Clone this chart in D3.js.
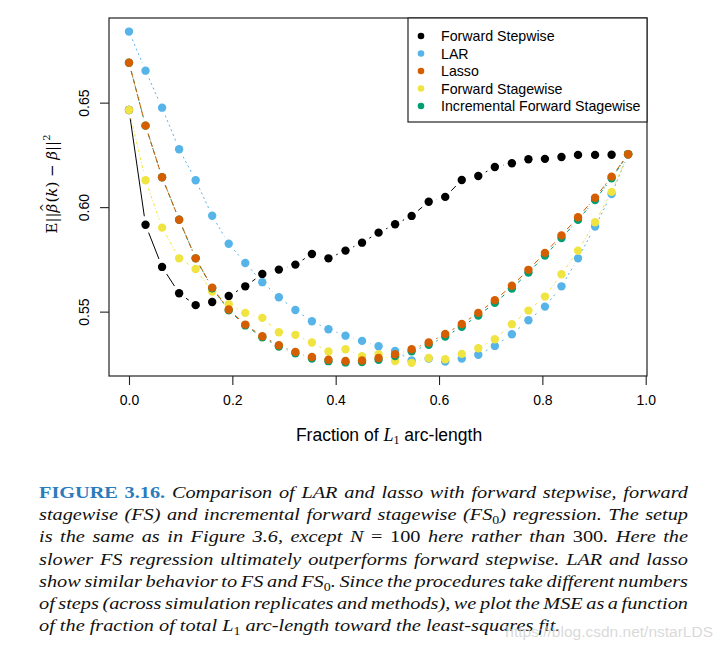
<!DOCTYPE html>
<html><head><meta charset="utf-8">
<script src="https://cdn.jsdelivr.net/npm/d3@7"></script>
<style>
html,body{margin:0;padding:0;background:#fff;}
svg{display:block;}
</style></head>
<body>
<svg id="chart" width="722" height="649"></svg>
<script>
// ---------------- data ----------------
const fraction = [0, .032, .064, .097, .129, .161, .193, .225, .258, .290, .322, .354, .386, .419, .451, .483,
  .515, .547, .580, .612, .644, .676, .708, .741, .773, .805, .837, .869, .902, .934, .966];

const forwardStepwise = [0.6465, 0.5916, 0.5714, 0.5588, 0.5531, 0.5546, 0.5575, 0.5621, 0.5680, 0.5701,
  0.5725, 0.5776, 0.5755, 0.5792, 0.5830, 0.5878, 0.5918, 0.5958, 0.6026, 0.6049, 0.6130, 0.6149, 0.6192,
  0.6210, 0.6229, 0.6231, 0.6240, 0.6250, 0.6250, 0.6251, 0.6253];

const lar = [0.6840, 0.6653, 0.6476, 0.6277, 0.6129, 0.5959, 0.5825, 0.5733, 0.5641, 0.5569, 0.5508, 0.5454,
  0.5416, 0.5385, 0.5360, 0.5334, 0.5312, 0.5266, 0.5275, 0.5261, 0.5275, 0.5294, 0.5336, 0.5392, 0.5459,
  0.5524, 0.5621, 0.5755, 0.5907, 0.6063, 0.6253];

const lasso = [0.6691, 0.6390, 0.6143, 0.5940, 0.5755, 0.5615, 0.5510, 0.5438, 0.5382, 0.5339, 0.5307, 0.5283,
  0.5270, 0.5264, 0.5266, 0.5278, 0.5296, 0.5320, 0.5352, 0.5393, 0.5441, 0.5494, 0.5555, 0.5624, 0.5700,
  0.5781, 0.5865, 0.5952, 0.6045, 0.6146, 0.6253];

const forwardStagewise = [0.6465, 0.6129, 0.5902, 0.5755, 0.5704, 0.5596, 0.5535, 0.5494, 0.5470, 0.5401,
  0.5389, 0.5352, 0.5309, 0.5320, 0.5287, 0.5296, 0.5264, 0.5255, 0.5278, 0.5272, 0.5298, 0.5325, 0.5368,
  0.5440, 0.5505, 0.5572, 0.5679, 0.5792, 0.5928, 0.6073, 0.6253];

const incrementalStagewise = [0.6691, 0.6390, 0.6143, 0.5940, 0.5755, 0.5612, 0.5506, 0.5434, 0.5377, 0.5333,
  0.5301, 0.5276, 0.5263, 0.5257, 0.5259, 0.5270, 0.5287, 0.5310, 0.5341, 0.5381, 0.5428, 0.5481, 0.5542,
  0.5611, 0.5687, 0.5768, 0.5852, 0.5939, 0.6034, 0.6138, 0.6253];

const seriesNames = ["Forward Stepwise", "LAR", "Lasso", "Forward Stagewise", "Incremental Forward Stagewise"];
const seriesColors = ["#000000", "#56B4E9", "#D55E00", "#F0E442", "#009E73"];
const seriesDash = [null, "2,3", "6,2", "3,2,1,2", "4,2,1,2"];
const xTicks = [0, 0.2, 0.4, 0.6, 0.8, 1.0];
const yTicks = [0.55, 0.60, 0.65];

// ---------------- layout ----------------
const svg = d3.select("#chart");
const box = {left: 109, right: 647, top: 18, bottom: 376};
const x = d3.scaleLinear().domain([-0.0387, 1.0025]).range([box.left, box.right]);
const y = d3.scaleLinear().domain([0.5192, 0.6905]).range([box.bottom, box.top]);

const allSeries = [forwardStepwise, lar, lasso, forwardStagewise, incrementalStagewise];
// drawing order (bottom -> top)
const drawOrder = [0, 1, 3, 4, 2];

const gap = 8.5;
drawOrder.forEach(si => {
  const vals = allSeries[si];
  const g = svg.append("g");
  const segs = [];
  for (let i = 0; i < vals.length - 1; i++) {
    const x1 = x(fraction[i]), y1 = y(vals[i]), x2 = x(fraction[i+1]), y2 = y(vals[i+1]);
    const d = Math.hypot(x2 - x1, y2 - y1);
    if (d > 2 * gap) {
      const ux = (x2 - x1) / d, uy = (y2 - y1) / d;
      segs.push([x1 + ux*gap, y1 + uy*gap, x2 - ux*gap, y2 - uy*gap]);
    }
  }
  g.selectAll("line").data(segs).join("line")
    .attr("x1", d => d[0]).attr("y1", d => d[1]).attr("x2", d => d[2]).attr("y2", d => d[3])
    .attr("stroke", seriesColors[si]).attr("stroke-width", 1)
    .attr("stroke-dasharray", seriesDash[si]);
  g.selectAll("circle").data(vals).join("circle")
    .attr("cx", (d, i) => x(fraction[i])).attr("cy", d => y(d)).attr("r", 4.2)
    .attr("fill", seriesColors[si]);
});

// box
svg.append("rect").attr("x", box.left).attr("y", box.top)
  .attr("width", box.right - box.left).attr("height", box.bottom - box.top)
  .attr("fill", "none").attr("stroke", "#222").attr("stroke-width", 1.2);

// x axis
const xAxis = d3.axisBottom(x).tickValues(xTicks).tickFormat(d3.format(".1f")).tickSize(9).tickPadding(10);
const gx = svg.append("g").attr("transform", `translate(0,${box.bottom})`).call(xAxis);
gx.select(".domain").remove();
gx.selectAll(".tick line").attr("stroke", "#222").attr("stroke-width", 1.1);
gx.selectAll("text").attr("font-family", "Liberation Sans, Arial, sans-serif").attr("font-size", 14).attr("fill", "#000");

// y axis
const yAxis = d3.axisLeft(y).tickValues(yTicks).tickFormat(d3.format(".2f")).tickSize(9).tickPadding(0);
const gy = svg.append("g").attr("transform", `translate(${box.left},0)`).call(yAxis);
gy.select(".domain").remove();
gy.selectAll(".tick line").attr("stroke", "#222").attr("stroke-width", 1.1);
gy.selectAll("text")
  .attr("font-family", "Liberation Sans, Arial, sans-serif").attr("font-size", 14).attr("fill", "#000")
  .attr("text-anchor", "middle").attr("x", 0)
  .attr("transform", "translate(-25,0) rotate(-90)").attr("y", 0).attr("dy", "0.35em");

// y label (math)
const yl = svg.append("text").attr("transform", "translate(57,184) rotate(-90)")
  .attr("text-anchor", "middle").attr("font-family", "DejaVu Serif, Liberation Serif, serif").attr("font-size", 15);
yl.append("tspan").text("E||");
yl.append("tspan").attr("font-style", "italic").text("β");
yl.append("tspan").attr("font-size", 11).attr("dx", -8.5).attr("dy", -9).text("^");
yl.append("tspan").attr("dx", 0.5).attr("dy", 9).text("(");
yl.append("tspan").attr("font-style", "italic").text("k");
yl.append("tspan").text(") \u2212 ");
yl.append("tspan").attr("font-style", "italic").text("β");
yl.append("tspan").text("||");
yl.append("tspan").attr("font-size", 10).attr("dy", -7).text("2");

// x label
const xl = svg.append("text").attr("x", 389).attr("y", 441).attr("text-anchor", "middle")
  .attr("font-family", "Liberation Sans, Arial, sans-serif").attr("font-size", 17.5);
xl.append("tspan").text("Fraction of ");
xl.append("tspan").attr("font-family", "Liberation Serif, serif").attr("font-style", "italic").attr("font-size", 18).text("L");
xl.append("tspan").attr("font-family", "Liberation Serif, serif").attr("font-size", 12).attr("dy", 3).text("1");
xl.append("tspan").attr("dy", -3).text(" arc-length");

// legend
const lg = svg.append("g");
lg.append("rect").attr("x", 408).attr("y", box.top).attr("width", box.right - 408).attr("height", 104)
  .attr("fill", "#fff").attr("stroke", "#222").attr("stroke-width", 1.2);
seriesNames.forEach((name, i) => {
  const yy = 36 + i * 17.5;
  lg.append("circle").attr("cx", 421).attr("cy", yy).attr("r", 3.3).attr("fill", seriesColors[i]);
  lg.append("text").attr("x", 441).attr("y", yy).attr("dy", "0.36em")
    .attr("font-family", "Liberation Sans, Arial, sans-serif").attr("font-size", 14.2).text(name);
});

// caption
const capFont = "Liberation Serif, Times New Roman, serif";
const capLines = [
  [{t: "FIGURE 3.16.", b: 1}, {t: " Comparison of LAR and lasso with forward stepwise, forward"}],
  [{t: "stagewise (FS) and incremental forward stagewise (FS"}, {t: "0", sub: 1}, {t: ") regression. The setup"}],
  [{t: "is the same as in Figure 3.6, except "}, {t: "N"}, {t: " = 100", up: 1}, {t: " here rather than "}, {t: "300", up: 1}, {t: ". Here the"}],
  [{t: "slower FS regression ultimately outperforms forward stepwise. LAR and lasso"}],
  [{t: "show similar behavior to FS and FS"}, {t: "0", sub: 1}, {t: ". Since the procedures take different numbers"}],
  [{t: "of steps (across simulation replicates and methods), we plot the MSE as a function"}],
  [{t: "of the fraction of total "}, {t: "L"}, {t: "1", sub: 1, up: 1}, {t: " arc-length toward the least-squares fit."}]
];
const capX = 39, capRight = 688, capY0 = 498, capDy = 22.2, capScale = 1.16;
capLines.forEach((parts, li) => {
  const t = svg.append("text").attr("x", 0).attr("y", 0)
    .attr("transform", `translate(${capX},${capY0 + li * capDy}) scale(${capScale},1)`)
    .attr("font-family", capFont).attr("font-size", 17.5).attr("fill", "#111");
  parts.forEach((p, i) => {
    const s = t.append("tspan").text(p.t);
    if (p.b) s.attr("font-weight", "bold").attr("fill", "#2b7bbd");
    else if (p.up) s.attr("font-style", "normal");
    else s.attr("font-style", "italic");
    if (p.sub) s.attr("font-size", 12).attr("dy", 4).attr("font-style", "normal");
    else if (i > 0 && parts[i-1].sub) s.attr("dy", -4);
  });
  if (li < capLines.length - 1) {
    const w = t.node().getComputedTextLength();
    const full = parts.map(p => p.t).join("");
    const spaces = (full.match(/ /g) || []).length;
    if (spaces > 0) t.attr("word-spacing", ((capRight - capX) / capScale - w) / spaces);
  }
});

// watermark
svg.append("text").attr("x", 713).attr("y", 637).attr("text-anchor", "end")
  .attr("font-family", "Liberation Sans, Arial, sans-serif").attr("font-size", 15.5)
  .attr("fill", "#cfcfcf").attr("fill-opacity", 0.8).text("https://blog.csdn.net/nstarLDS");
</script>
</body></html>
